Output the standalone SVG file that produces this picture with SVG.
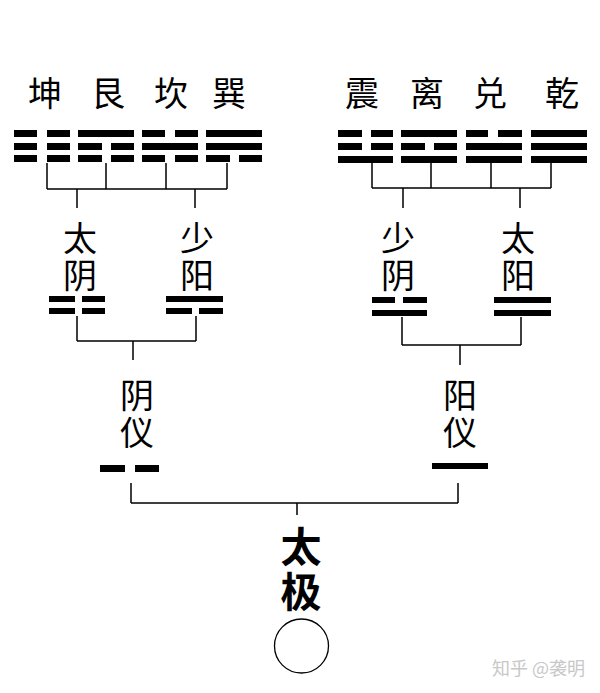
<svg xmlns="http://www.w3.org/2000/svg" width="600" height="693" viewBox="0 0 600 693">
<style>
.bg{fill:#fff}
.bar{fill:#000}
.ln{stroke:#000;stroke-width:1.5;fill:none}
.t{font-family:"Noto Sans CJK SC","Noto Sans CJK TC",sans-serif;font-size:34px;fill:#000;text-anchor:middle;dominant-baseline:central}
.v{font-family:"Noto Sans CJK SC","Noto Sans CJK TC",sans-serif;font-size:34px;fill:#000;writing-mode:vertical-rl;text-anchor:start;letter-spacing:3px}
.tj{font-family:"Noto Sans CJK SC",sans-serif;font-size:41px;font-weight:bold;fill:#000;writing-mode:vertical-rl;text-anchor:start;letter-spacing:4px}
.wm{font-family:"Noto Sans CJK SC",sans-serif;font-size:18px;fill:#c8c8c8;text-anchor:start;dominant-baseline:central}
</style>
<rect class="bg" x="0" y="0" width="600" height="693"/>

<g id="connectors">
  <path class="ln" d="M47,163V189M106,163V189M166,163V189M227,163V189M47,189H227M77,189V208M195,189V208"/>
  <path class="ln" d="M372,163V188M431,163V188M491,163V188M551,163V188M372,188H551M403,188V208M520,188V208"/>
  <path class="ln" d="M77,316V341M196,316V341M77,341H196M133,341V360"/>
  <path class="ln" d="M402,317V345M521,317V345M402,345H521M460,345V365"/>
  <path class="ln" d="M131,483V503M458,483V503M131,503H458M297,503V515"/>
</g>

<g id="kun">
  <text class="t" x="45" y="91">坤</text>
  <rect class="bar" x="14" y="130" width="23" height="7"/><rect class="bar" x="47" y="130" width="23" height="7"/>
  <rect class="bar" x="14" y="143" width="23" height="7"/><rect class="bar" x="47" y="143" width="23" height="7"/>
  <rect class="bar" x="14" y="155" width="23" height="7"/><rect class="bar" x="47" y="155" width="23" height="7"/>
</g>
<g id="gen">
  <text class="t" x="108" y="91">艮</text>
  <rect class="bar" x="78" y="130" width="56" height="7"/>
  <rect class="bar" x="78" y="143" width="24" height="7"/><rect class="bar" x="111" y="143" width="23" height="7"/>
  <rect class="bar" x="78" y="155" width="24" height="7"/><rect class="bar" x="111" y="155" width="23" height="7"/>
</g>
<g id="kan">
  <text class="t" x="171" y="91">坎</text>
  <rect class="bar" x="142" y="130" width="23" height="7"/><rect class="bar" x="175" y="130" width="23" height="7"/>
  <rect class="bar" x="142" y="143" width="56" height="7"/>
  <rect class="bar" x="142" y="155" width="23" height="7"/><rect class="bar" x="175" y="155" width="23" height="7"/>
</g>
<g id="xun">
  <text class="t" x="229" y="91">巽</text>
  <rect class="bar" x="206" y="130" width="56" height="7"/>
  <rect class="bar" x="206" y="143" width="56" height="7"/>
  <rect class="bar" x="206" y="155" width="24" height="7"/><rect class="bar" x="239" y="155" width="23" height="7"/>
</g>
<g id="zhen">
  <text class="t" x="362" y="91">震</text>
  <rect class="bar" x="338" y="130" width="24" height="7"/><rect class="bar" x="371" y="130" width="22" height="7"/>
  <rect class="bar" x="338" y="143" width="24" height="7"/><rect class="bar" x="371" y="143" width="22" height="7"/>
  <rect class="bar" x="338" y="156" width="55" height="7"/>
</g>
<g id="li">
  <text class="t" x="427" y="91">离</text>
  <rect class="bar" x="401" y="130" width="56" height="7"/>
  <rect class="bar" x="401" y="143" width="24" height="7"/><rect class="bar" x="434" y="143" width="23" height="7"/>
  <rect class="bar" x="401" y="156" width="56" height="7"/>
</g>
<g id="dui">
  <text class="t" x="490" y="91">兑</text>
  <rect class="bar" x="466" y="130" width="22" height="7"/><rect class="bar" x="498" y="130" width="24" height="7"/>
  <rect class="bar" x="466" y="143" width="56" height="7"/>
  <rect class="bar" x="466" y="156" width="56" height="7"/>
</g>
<g id="qian">
  <text class="t" x="562" y="91">乾</text>
  <rect class="bar" x="531" y="130" width="56" height="7"/>
  <rect class="bar" x="531" y="143" width="56" height="7"/>
  <rect class="bar" x="531" y="156" width="56" height="7"/>
</g>

<g id="taiyin">
  <text class="v" x="80" y="221">太阴</text>
  <rect class="bar" x="49" y="296" width="26" height="6"/><rect class="bar" x="82" y="296" width="23" height="6"/>
  <rect class="bar" x="49" y="308" width="26" height="6"/><rect class="bar" x="82" y="308" width="23" height="6"/>
</g>
<g id="shaoyang">
  <text class="v" x="197" y="221">少阳</text>
  <rect class="bar" x="166" y="296" width="57" height="6"/>
  <rect class="bar" x="166" y="308" width="26" height="6"/><rect class="bar" x="199" y="308" width="24" height="6"/>
</g>
<g id="shaoyin">
  <text class="v" x="398" y="221">少阴</text>
  <rect class="bar" x="372" y="297" width="23" height="6"/><rect class="bar" x="403" y="297" width="24" height="6"/>
  <rect class="bar" x="372" y="310" width="55" height="6"/>
</g>
<g id="taiyang">
  <text class="v" x="518" y="221">太阳</text>
  <rect class="bar" x="494" y="297" width="57" height="6"/>
  <rect class="bar" x="494" y="310" width="57" height="6"/>
</g>

<g id="yinyi">
  <text class="v" x="137" y="378">阴仪</text>
  <rect class="bar" x="100" y="465" width="25" height="7"/><rect class="bar" x="135" y="465" width="24" height="7"/>
</g>
<g id="yangyi">
  <text class="v" x="460" y="378">阳仪</text>
  <rect class="bar" x="432" y="463" width="56" height="6"/>
</g>

<g id="taiji">
  <text class="tj" x="301" y="526">太极</text>
  <circle cx="301.5" cy="646" r="27" fill="none" stroke="#000" stroke-width="1.3"/>
</g>

<text class="wm" x="492" y="667">知乎 @袭明</text>
</svg>
